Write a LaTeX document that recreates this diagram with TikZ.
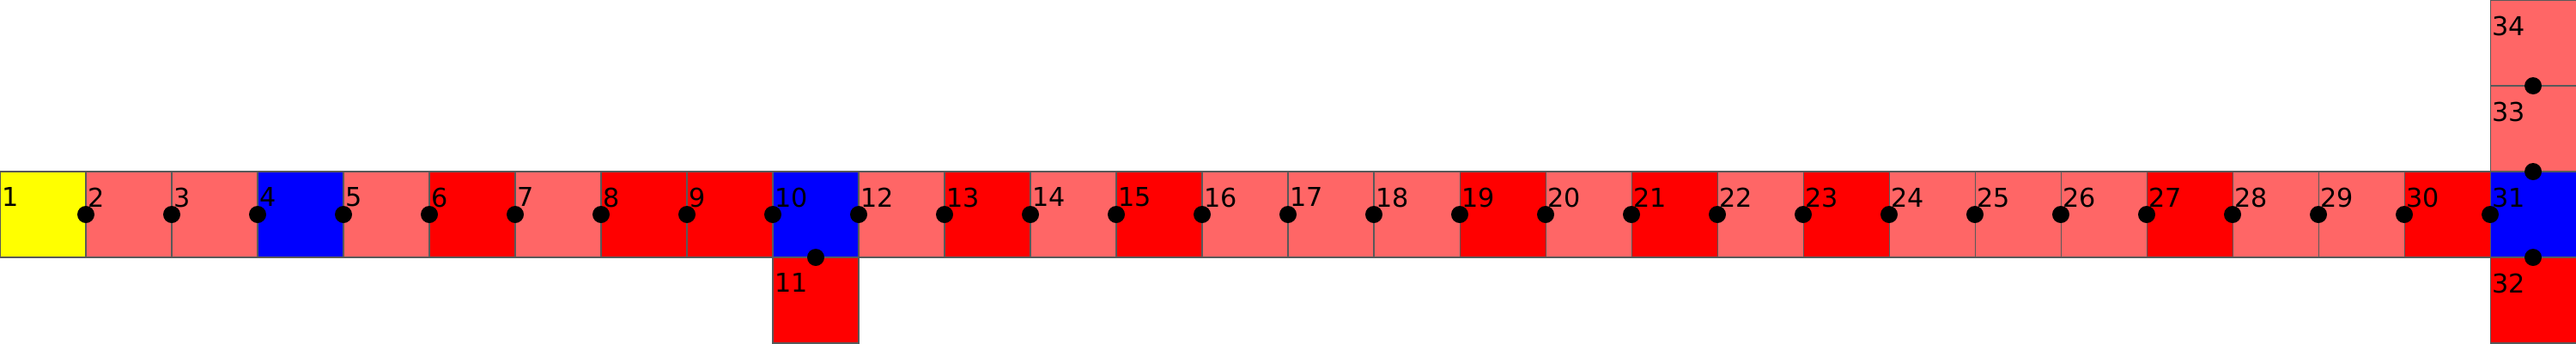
\documentclass[tikz,border=0pt]{standalone}
\usepackage{fontspec}
\setmainfont{DejaVu Sans}
\usetikzlibrary{positioning}
\definecolor{cyel}{HTML}{FFFF00}
\definecolor{clt}{HTML}{FF6666}
\definecolor{cred}{HTML}{FF0000}
\definecolor{cblu}{HTML}{0000FF}
\begin{document}
\begin{tikzpicture}[
  font=\fontsize{8.6}{10}\selectfont,
  sq/.style={draw=black!65, line width=0.3pt, minimum size=1cm, inner sep=0pt, outer sep=0pt},
  num/.style={inner sep=0pt, anchor=north west},
  dot/.style={circle, fill=black, minimum size=0.2cm, inner sep=0pt},
]
\useasboundingbox (0,0) rectangle (30,4);
% Squares
\foreach \n/\x/\y/\c in {
  1/0.5/1.5/cyel, 2/1.5/1.5/clt, 3/2.5/1.5/clt, 4/3.5/1.5/cblu,
  5/4.5/1.5/clt, 6/5.5/1.5/cred, 7/6.5/1.5/clt, 8/7.5/1.5/cred,
  9/8.5/1.5/cred, 10/9.5/1.5/cblu, 11/9.5/0.5/cred, 12/10.5/1.5/clt,
  13/11.5/1.5/cred, 14/12.5/1.5/clt, 15/13.5/1.5/cred, 16/14.5/1.5/clt,
  17/15.5/1.5/clt, 18/16.5/1.5/clt, 19/17.5/1.5/cred, 20/18.5/1.5/clt,
  21/19.5/1.5/cred, 22/20.5/1.5/clt, 23/21.5/1.5/cred, 24/22.5/1.5/clt,
  25/23.5/1.5/clt, 26/24.5/1.5/clt, 27/25.5/1.5/cred, 28/26.5/1.5/clt,
  29/27.5/1.5/clt, 30/28.5/1.5/cred, 31/29.5/1.5/cblu, 32/29.5/0.5/cred,
  33/29.5/2.5/clt, 34/29.5/3.5/clt%
}{
  \node[sq, fill=\c] (s\n) at (\x,\y) {};
}
% Numbers
\foreach \n in {1,...,34}{
  \node[num] (l\n) at ([xshift=0.02cm, yshift=-0.18cm]s\n.north west) {\n};
}
% Joints
\foreach \n/\side in {
  2/west, 3/west, 4/west, 5/west, 6/west, 7/west, 8/west, 9/west, 10/west,
  11/north, 12/west, 13/west, 14/west, 15/west, 16/west, 17/west, 18/west,
  19/west, 20/west, 21/west, 22/west, 23/west, 24/west, 25/west, 26/west,
  27/west, 28/west, 29/west, 30/west, 31/west, 32/north, 33/south, 34/south%
}{
  \node[dot] (d\n) at (s\n.\side) {};
}
\end{tikzpicture}
\end{document}
